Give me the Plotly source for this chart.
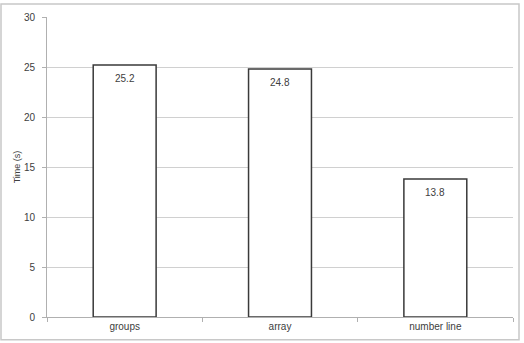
import plotly.graph_objects as go

categories = ["groups", "array", "number line"]
times = [25.2, 24.8, 13.8]
y_ticks = [0, 5, 10, 15, 20, 25, 30]

FONT = "Liberation Sans"
fig = go.Figure()
fig.add_trace(go.Bar(
    x=categories, y=times,
    marker=dict(color="white", line=dict(color="#3a3a3a", width=1.5)),
    width=0.405,
    hoverinfo="skip",
))
for c, v in zip(categories, times):
    fig.add_annotation(x=c, y=v, text=f"{v:.1f}", showarrow=False,
                       yanchor="top", yshift=-6,
                       font=dict(family=FONT, size=10, color="#404040"))

W, H = 524, 343
l, r, t, b = 47, 11, 15, 26
pw, ph = W - l - r, H - t - b
def px(x): return (x - l) / pw
def py(y): return (H - b - y) / ph
fig.add_shape(type="rect", xref="paper", yref="paper",
              x0=px(1), x1=px(519), y0=py(340), y1=py(2),
              line=dict(color="#c8c8c8", width=1.5), layer="below")

fig.update_layout(
    width=W, height=H,
    margin=dict(l=l, r=r, t=t, b=b),
    paper_bgcolor="white", plot_bgcolor="white",
    showlegend=False,
    font=dict(family=FONT, size=10, color="#404040"),
    xaxis=dict(showgrid=False, showline=True, linecolor="#b0b0b0", linewidth=1,
               ticks="outside", tickson="boundaries", ticklen=4, tickcolor="#b0b0b0",
               tickfont=dict(size=10, color="#404040")),
    yaxis=dict(range=[0, 30], tickvals=y_ticks, showgrid=True, gridcolor="#d0d0d0",
               gridwidth=1, showline=True, linecolor="#b0b0b0", zeroline=False,
               ticks="outside", ticklen=4, tickcolor="#b0b0b0",
               ticklabelstandoff=5,
               tickfont=dict(size=10, color="#404040"),
               title=dict(text="Time (s)", font=dict(size=9, color="#404040"), standoff=1)),
)
fig.write_html("out.html")
